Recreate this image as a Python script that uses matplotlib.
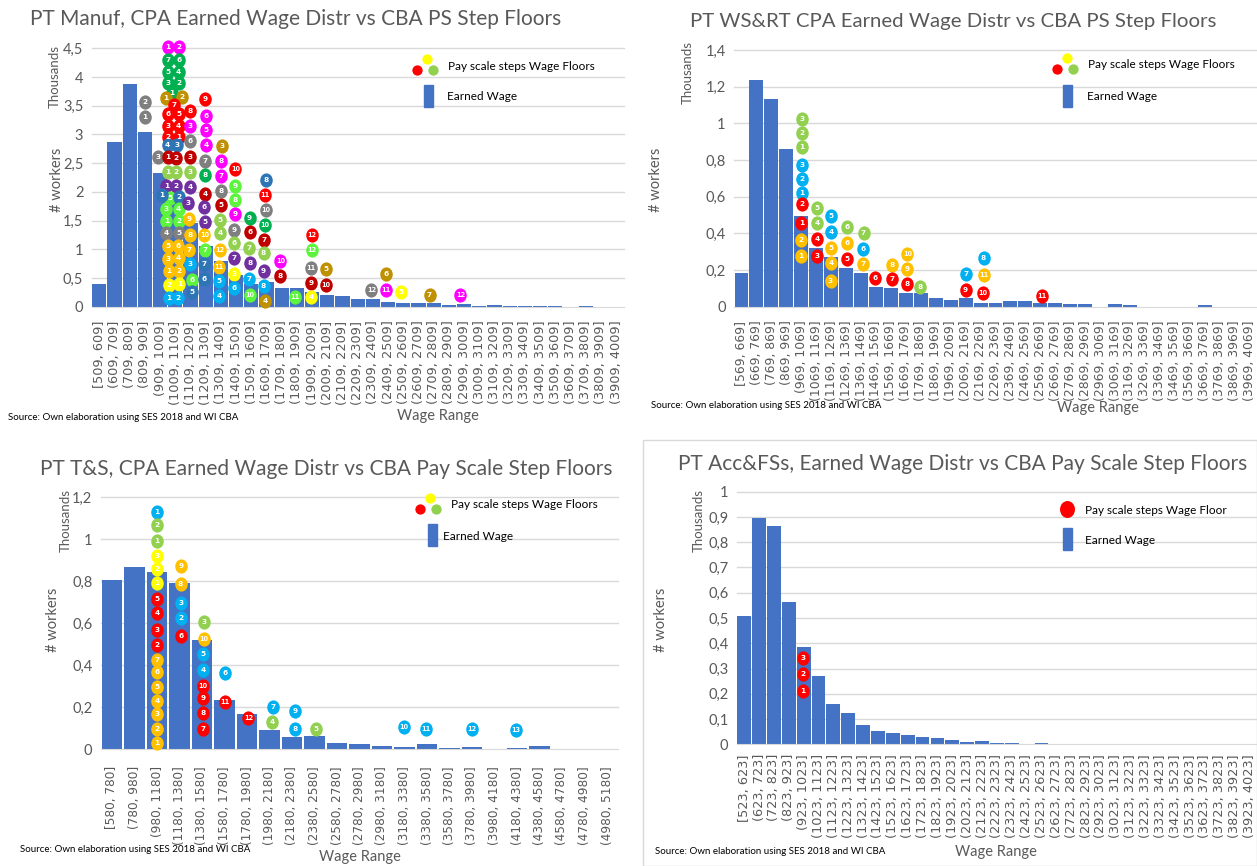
import matplotlib
matplotlib.use("Agg")
import matplotlib.pyplot as plt
import numpy as np
from matplotlib.path import Path
from matplotlib.patches import Rectangle

plt.rcParams['font.family'] = ['Lato', 'DejaVu Sans']

W, H = 1257, 866
BAR = '#4472C4'
GRID = '#D9D9D9'
TXT = '#595959'
COL = {'mag': '#FF00FF', 'grn': '#00B050', 'ocr': '#BF9000', 'red': '#FF0000',
       'stb': '#2E75B6', 'drd': '#C00000', 'lgr': '#92D050', 'pur': '#7030A0',
       'lim': '#5CF43C', 'gry': '#7F7F7F', 'amb': '#FFC000', 'yel': '#FFFF00',
       'cya': '#00B0F0'}

# ---------------- data ----------------
p1_title = "PT Manuf, CPA Earned Wage Distr vs CBA PS Step Floors"
p1_start = [509 + 100 * i for i in range(35)]
p1_counts = [0.40, 2.87, 3.88, 3.05, 2.33, 1.85, 1.45, 1.05, 0.80, 0.55, 0.40, 0.43,
             0.33, 0.33, 0.25, 0.20, 0.18, 0.13, 0.13, 0.09, 0.06, 0.06, 0.06, 0.03,
             0.05, 0.01, 0.03, 0.02, 0.01, 0.01, 0.01, 0.0, 0.02, 0.0, 0.0]
# (wage floor, thousands, step label, colour)
p1_steps = [
    (857, 3.57, '2', 'gry'), (857, 3.30, '1', 'gry'), (943, 2.61, '3', 'gry'),
    (1009, 4.52, '1', 'mag'), (1081, 4.52, '2', 'mag'),
    (1009, 4.30, '7', 'grn'), (1081, 4.30, '6', 'grn'),
    (1009, 4.08, '5', 'grn'), (1081, 4.08, '4', 'grn'),
    (1009, 3.89, '3', 'grn'), (1081, 3.89, '2', 'grn'),
    (1037, 3.72, '1', 'grn'),
    (995, 3.64, '1', 'ocr'), (1105, 3.65, '2', 'ocr'),
    (1048, 3.51, '7', 'red'),
    (1009, 3.36, '6', 'red'), (1081, 3.35, '5', 'red'),
    (1009, 3.15, '3', 'red'), (1081, 3.14, '4', 'red'),
    (1009, 2.95, '2', 'red'), (1081, 2.95, '1', 'red'),
    (1009, 2.82, '4', 'stb'), (1072, 2.81, '3', 'stb'),
    (1009, 2.60, '1', 'drd'), (1062, 2.59, '2', 'drd'),
    (1009, 2.34, '1', 'lgr'), (1065, 2.34, '2', 'lgr'),
    (1000, 2.11, '1', 'pur'), (1065, 2.11, '2', 'pur'),
    (1022, 1.90, '5', 'lim'),
    (971, 1.95, '1', 'stb'), (1085, 1.91, '2', 'stb'),
    (995, 1.71, '3', 'lim'), (1081, 1.71, '4', 'lim'),
    (1000, 1.49, '1', 'lim'), (1085, 1.49, '2', 'lim'),
    (1000, 1.28, '4', 'gry'), (1081, 1.29, '5', 'gry'),
    (1009, 1.05, '5', 'amb'), (1075, 1.05, '6', 'amb'),
    (1009, 0.83, '3', 'amb'), (1081, 0.85, '4', 'amb'),
    (1015, 0.62, '1', 'amb'), (1085, 0.62, '2', 'amb'),
    (1015, 0.385, '2', 'yel'), (1085, 0.40, '1', 'yel'),
    (1015, 0.16, '1', 'cya'), (1075, 0.16, '2', 'cya'),
    (1158, 3.41, '8', 'red'), (1158, 3.14, '3', 'mag'), (1158, 2.89, '6', 'gry'),
    (1158, 2.60, '3', 'drd'), (1158, 2.34, '3', 'lgr'), (1158, 2.09, '4', 'pur'),
    (1140, 1.80, '3', 'pur'), (1150, 1.53, '9', 'amb'), (1155, 1.24, '8', 'amb'),
    (1150, 0.99, '7', 'amb'), (1158, 0.74, '3', 'cya'), (1168, 0.47, '6', 'lim'),
    (1168, 0.25, '5', 'stb'),
    (1256, 3.61, '9', 'red'), (1260, 3.32, '6', 'mag'), (1260, 3.07, '5', 'mag'),
    (1260, 2.82, '4', 'mag'), (1256, 2.54, '7', 'gry'), (1256, 2.29, '8', 'grn'),
    (1256, 1.97, '4', 'drd'), (1250, 1.74, '6', 'pur'), (1256, 1.48, '5', 'pur'),
    (1250, 1.24, '10', 'amb'), (1256, 0.98, '7', 'lim'), (1250, 0.74, '7', 'stb'),
    (1250, 0.49, '6', 'stb'),
    (1368, 2.79, '3', 'ocr'), (1362, 2.54, '8', 'mag'), (1362, 2.27, '7', 'mag'),
    (1362, 2.02, '8', 'gry'), (1362, 1.77, '5', 'drd'), (1355, 1.51, '5', 'lgr'),
    (1352, 1.28, '4', 'lgr'), (1352, 0.98, '12', 'amb'), (1348, 0.69, '11', 'amb'),
    (1348, 0.45, '5', 'cya'), (1345, 0.19, '4', 'cya'),
    (1454, 2.40, '10', 'red'), (1454, 2.11, '9', 'lim'), (1454, 1.85, '8', 'lim'),
    (1454, 1.62, '9', 'mag'), (1444, 1.33, '9', 'gry'), (1444, 1.11, '6', 'lgr'),
    (1446, 0.84, '7', 'pur'), (1444, 0.57, '3', 'yel'), (1444, 0.33, '6', 'cya'),
    (1548, 1.55, '9', 'grn'), (1548, 1.30, '6', 'drd'), (1542, 1.03, '7', 'lgr'),
    (1548, 0.76, '8', 'pur'), (1546, 0.49, '7', 'cya'), (1548, 0.21, '10', 'lim'),
    (1655, 2.20, '8', 'stb'), (1647, 1.94, '11', 'red'), (1653, 1.68, '10', 'gry'),
    (1647, 1.43, '10', 'grn'), (1640, 1.16, '7', 'drd'), (1640, 0.93, '8', 'lgr'),
    (1640, 0.63, '9', 'pur'), (1640, 0.36, '8', 'cya'), (1651, 0.10, '4', 'ocr'),
    (1750, 0.79, '10', 'mag'), (1746, 0.53, '8', 'drd'),
    (1844, 0.17, '11', 'lim'),
    (1958, 1.25, '12', 'red'), (1958, 0.98, '12', 'lim'), (1953, 0.67, '11', 'gry'),
    (1953, 0.42, '9', 'drd'), (1953, 0.17, '4', 'yel'),
    (2052, 0.65, '5', 'ocr'), (2052, 0.385, '10', 'drd'),
    (2349, 0.29, '12', 'gry'), (2445, 0.57, '6', 'ocr'), (2445, 0.29, '11', 'mag'),
    (2546, 0.25, '5', 'yel'), (2732, 0.20, '7', 'ocr'), (2935, 0.20, '12', 'mag'),
]

p2_title = "PT WS&RT CPA Earned Wage Distr vs CBA PS Step Floors"
p2_start = [569 + 100 * i for i in range(35)]
p2_counts = [0.185, 1.236, 1.135, 0.858, 0.495, 0.32, 0.27, 0.21, 0.185, 0.11, 0.10,
             0.073, 0.073, 0.045, 0.038, 0.05, 0.018, 0.018, 0.03, 0.03, 0.018, 0.018,
             0.013, 0.013, 0.0, 0.013, 0.007, 0.0, 0.0, 0.0, 0.0, 0.007, 0.0, 0.0, 0.0]
p2_steps = [
    (1022, 1.024, '3', 'lgr'), (1022, 0.949, '2', 'lgr'), (1022, 0.873, '1', 'lgr'),
    (1022, 0.773, '3', 'cya'), (1022, 0.696, '2', 'cya'), (1022, 0.622, '1', 'cya'),
    (1022, 0.558, '2', 'red'), (1020, 0.455, '1', 'red'), (1020, 0.364, '2', 'amb'),
    (1018, 0.278, '1', 'amb'),
    (1126, 0.536, '5', 'lgr'), (1126, 0.455, '4', 'lgr'), (1123, 0.369, '4', 'red'),
    (1123, 0.278, '3', 'red'),
    (1218, 0.495, '5', 'cya'), (1218, 0.409, '4', 'cya'), (1218, 0.322, '5', 'amb'),
    (1220, 0.236, '4', 'amb'), (1215, 0.142, '3', 'amb'),
    (1327, 0.433, '6', 'lgr'), (1327, 0.345, '6', 'amb'), (1325, 0.258, '5', 'red'),
    (1436, 0.400, '7', 'lgr'), (1432, 0.315, '6', 'cya'), (1432, 0.233, '7', 'amb'),
    (1515, 0.155, '6', 'red'),
    (1626, 0.227, '8', 'amb'), (1624, 0.151, '7', 'red'),
    (1729, 0.287, '10', 'amb'), (1730, 0.204, '9', 'amb'), (1726, 0.122, '8', 'red'),
    (1814, 0.109, '8', 'lgr'),
    (2119, 0.180, '7', 'cya'), (2119, 0.093, '9', 'red'),
    (2239, 0.264, '8', 'cya'), (2239, 0.173, '11', 'amb'), (2237, 0.073, '10', 'red'),
    (2629, 0.058, '11', 'red'),
]

p3_title = "PT T&S, CPA Earned Wage Distr vs CBA Pay Scale Step Floors"
p3_start = [580 + 200 * i for i in range(23)]
p3_counts = [0.806, 0.870, 0.846, 0.794, 0.521, 0.235, 0.167, 0.092, 0.060, 0.063,
             0.030, 0.027, 0.016, 0.011, 0.027, 0.008, 0.011, 0.0, 0.008, 0.016,
             0.0, 0.0, 0.0]
p3_steps = [
    (1076, 1.132, '1', 'cya'), (1078, 1.068, '2', 'lgr'), (1078, 0.994, '1', 'lgr'),
    (1078, 0.922, '3', 'yel'), (1080, 0.857, '2', 'yel'), (1080, 0.790, '1', 'yel'),
    (1082, 0.716, '5', 'red'), (1082, 0.648, '4', 'red'), (1082, 0.568, '3', 'red'),
    (1082, 0.497, '2', 'red'), (1082, 0.425, '7', 'amb'), (1082, 0.367, '6', 'amb'),
    (1082, 0.298, '5', 'amb'), (1082, 0.230, '4', 'amb'), (1082, 0.167, '3', 'amb'),
    (1082, 0.095, '2', 'amb'), (1082, 0.029, '1', 'amb'),
    (1296, 0.873, '9', 'amb'), (1290, 0.786, '8', 'amb'), (1290, 0.698, '3', 'cya'),
    (1290, 0.624, '2', 'cya'), (1290, 0.540, '6', 'red'),
    (1494, 0.605, '3', 'lgr'), (1494, 0.524, '10', 'amb'), (1490, 0.452, '5', 'cya'),
    (1490, 0.378, '4', 'cya'), (1490, 0.303, '10', 'red'), (1490, 0.243, '9', 'red'),
    (1490, 0.175, '8', 'red'), (1490, 0.095, '7', 'red'),
    (1684, 0.362, '6', 'cya'), (1680, 0.224, '11', 'red'),
    (1892, 0.151, '12', 'red'),
    (2110, 0.200, '7', 'cya'), (2106, 0.129, '4', 'lgr'),
    (2308, 0.184, '9', 'cya'), (2304, 0.097, '8', 'cya'),
    (2494, 0.097, '5', 'lgr'),
    (3276, 0.108, '10', 'cya'), (3468, 0.098, '11', 'cya'),
    (3880, 0.098, '12', 'cya'), (4272, 0.090, '13', 'cya'),
]

p4_title = "PT Acc&FSs, Earned Wage Distr vs CBA Pay Scale Step Floors"
p4_start = [523 + 100 * i for i in range(35)]
p4_counts = [0.509, 0.894, 0.864, 0.565, 0.387, 0.269, 0.158, 0.123, 0.075, 0.051,
             0.045, 0.036, 0.030, 0.024, 0.017, 0.008, 0.012, 0.005, 0.005, 0.0,
             0.006, 0.003, 0.0, 0.0, 0.0, 0.0, 0.0, 0.003, 0.0, 0.0, 0.0, 0.0, 0.0,
             0.0, 0.0]
p4_steps = [(970, 0.343, '3', 'red'), (970, 0.278, '2', 'red'), (968, 0.211, '1', 'red')]

# ---------------- drawing ----------------
fig = plt.figure(figsize=(W / 100, H / 100), dpi=100)

ell = Path.unit_circle()
ell = Path(ell.vertices * np.array([0.88, 1.0]), ell.codes)


def fmt(v):
    return ('%g' % round(v, 2)).replace('.', ',')


def panel(left, right, y0, ytop, ymax, ystep, starts, width, counts, steps,
          tick_fs, tick_pad, csize=105, cfs=5.3):
    ax = fig.add_axes([left / W, 1 - y0 / H, (right - left) / W, (y0 - ytop) / H])
    n = len(counts)
    x = np.arange(n)
    ax.set_xlim(-0.5, n - 0.5)
    ax.set_ylim(0, ymax)
    yt = np.arange(0, ymax + ystep / 2, ystep)
    for v in yt[1:]:
        ax.axhline(v, color=GRID, lw=1.0, zorder=0, clip_on=False)
    ax.bar(x, counts, width=0.93, color=BAR, zorder=2)
    ax.set_yticks(yt)
    ax.set_yticklabels([fmt(v) for v in yt], color=TXT, fontsize=10.5)
    labels = ['[%d, %d]' % (s, s + width) if i == 0 else '(%d, %d]' % (s, s + width)
              for i, s in enumerate(starts)]
    ax.set_xticks(x)
    ax.set_xticklabels(labels, rotation=90, color=TXT, fontsize=tick_fs,
                       family='DejaVu Sans')
    ax.tick_params(axis='both', length=0)
    ax.tick_params(axis='x', pad=tick_pad)
    ax.tick_params(axis='y', pad=6)
    for s in ['top', 'right', 'left']:
        ax.spines[s].set_visible(False)
    ax.spines['bottom'].set_color(GRID)
    ax.set_facecolor('none')
    c0 = starts[0] + width / 2
    for wage, val, lab, c in steps:
        xp = (wage - c0) / width
        ax.scatter([xp], [val], s=csize, marker=ell, color=COL[c], zorder=4,
                   clip_on=False, linewidths=0)
        ax.text(xp, val, lab, ha='center', va='center', color='white',
                fontsize=cfs if len(lab) == 1 else cfs - 0.6, fontweight='bold',
                family='DejaVu Sans', zorder=5, clip_on=False)
    return ax


panel(91.7, 623.7, 306.7, 48.3, 4.5, 0.5, p1_start, 100, p1_counts, p1_steps, 9.3, 10)
panel(734, 1257, 306.7, 50.1, 1.4, 0.2, p2_start, 100, p2_counts, p2_steps, 8.9, 10)
panel(100.75, 618.25, 749.3, 497.3, 1.2, 0.2, p3_start, 200, p3_counts, p3_steps, 8.7, 12)
panel(736.8, 1257, 744.3, 491.7, 1.0, 0.1, p4_start, 100, p4_counts, p4_steps, 9.3, 7)

# ---------------- overlay texts / legends ----------------
ov = fig.add_axes([0, 0, 1, 1], zorder=10)
ov.set_xlim(0, W)
ov.set_ylim(H, 0)
ov.axis('off')

ov.add_patch(Rectangle((643, 440), W - 643, H - 440, fill=False, ec=GRID, lw=1))

tkw = dict(color=TXT, fontsize=15.0, va='center', ha='left')
ov.text(30, 19, p1_title, **tkw)
ov.text(690, 21, p2_title, fontsize=14.7, color=TXT, va='center', ha='left')
ov.text(40, 469, p3_title, **tkw)
ov.text(678, 464, p4_title, **tkw)

for (xt, yt_), (xw, yw) in [((55, 76), (57, 180)), ((688, 72), (656, 180)),
                            ((66, 520), (53, 620)), ((699, 520), (661, 620))]:
    ov.text(xt, yt_, 'Thousands', rotation=90, color=TXT, fontsize=9.5,
            ha='center', va='center')
    ov.text(xw, yw, '# workers', rotation=90, color=TXT, fontsize=10.5,
            ha='center', va='center')

src = 'Source: Own elaboration using SES 2018 and WI CBA'
for xs, ys in [(8, 417), (651, 406), (20, 850), (655, 852)]:
    ov.text(xs, ys, src, fontsize=7, color='black', ha='left', va='center')
for xr, yr in [(438, 416), (1098, 408), (360, 857), (996, 852)]:
    ov.text(xr, yr, 'Wage Range', fontsize=10.5, color=TXT, ha='center', va='center')


def trio(x, y, txt):
    ov.scatter([x], [y - 6], s=55, color=COL['yel'], linewidths=0)
    ov.scatter([x - 10], [y + 5], s=55, color=COL['red'], linewidths=0)
    ov.scatter([x + 6], [y + 5], s=55, color=COL['lgr'], linewidths=0)
    ov.text(x + 21, y + 1, txt, fontsize=8.5, color='black', va='center')


def barleg(x, y, tx):
    ov.add_patch(Rectangle((x - 4.5, y - 11), 9, 22, color=BAR))
    ov.text(tx, y + 1, 'Earned Wage', fontsize=8.5, color='black', va='center')


trio(427, 65, 'Pay scale steps Wage Floors')
barleg(428, 96, 447)
trio(1067, 64, 'Pay scale steps Wage Floors')
barleg(1067, 96, 1087)
trio(430, 504, 'Pay scale steps Wage Floors')
barleg(432, 535, 443)
ov.scatter([1067], [509], s=150, marker=ell, color=COL['red'], linewidths=0)
ov.text(1085, 510, 'Pay scale steps Wage Floor', fontsize=8.5, color='black', va='center')
barleg(1067, 539, 1085)

fig.savefig('out.png', dpi=100)
